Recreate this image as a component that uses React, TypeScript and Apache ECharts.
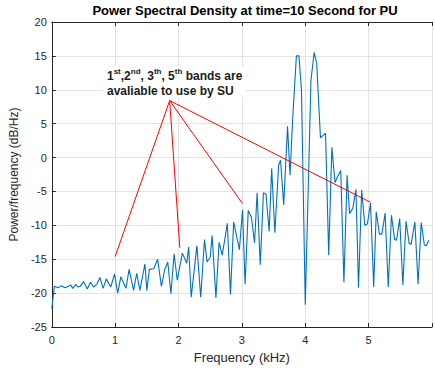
import React, { useEffect, useRef } from "react";
import * as echarts from "echarts";

const freqKHz = [
  0.0, 0.04, 0.1, 0.15, 0.21, 0.26, 0.3, 0.33, 0.38, 0.41, 0.45, 0.5, 0.56, 0.61, 0.66, 0.71, 0.76, 0.81, 0.86, 0.93,
  0.99, 1.04, 1.09, 1.17, 1.22, 1.29, 1.34, 1.39, 1.47, 1.5, 1.54, 1.61, 1.67, 1.73, 1.78, 1.83, 1.88, 1.93, 1.98,
  2.06, 2.13, 2.16, 2.2, 2.29, 2.35, 2.41, 2.45, 2.5, 2.53, 2.59, 2.64, 2.69, 2.77, 2.82, 2.87, 2.96, 3.01, 3.05,
  3.1, 3.15, 3.2, 3.24, 3.29, 3.34, 3.38, 3.43, 3.47, 3.52, 3.58, 3.61, 3.66, 3.72, 3.76, 3.8, 3.86, 3.9, 3.94,
  4.0, 4.09, 4.14, 4.18, 4.24, 4.32, 4.37, 4.42, 4.47, 4.51, 4.56, 4.61, 4.66, 4.7, 4.75, 4.8, 4.84, 4.89, 4.94,
  4.98, 5.03, 5.08, 5.12, 5.17, 5.21, 5.26, 5.31, 5.36, 5.41, 5.44, 5.49, 5.54, 5.59, 5.64, 5.67, 5.73, 5.78,
  5.83, 5.88, 5.91, 5.95,
];
const psdDb = [
  -22.3, -19.0, -19.2, -18.9, -19.2, -19.0, -18.8, -19.3, -18.7, -19.1, -19.0, -18.3, -19.4, -18.4, -19.1, -18.7,
  -17.7, -19.3, -17.9, -19.1, -17.2, -20.0, -17.6, -19.3, -16.5, -19.6, -17.1, -19.6, -15.7, -19.6, -16.5, -16.4,
  -15.0, -19.0, -16.6, -15.4, -20.1, -14.2, -18.1, -14.1, -15.6, -13.2, -20.6, -13.0, -20.6, -12.1, -15.4, -14.7,
  -11.5, -20.7, -12.5, -14.4, -9.7, -20.2, -9.5, -13.6, -7.7, -18.7, -7.8, -8.8, -12.6, -5.2, -15.8, -5.2, -5.4,
  -10.9, -1.6, -11.1, -1.1, -0.4, -7.0, 4.6, -2.6, 5.5, 15.0, 15.0, 10.0, -21.7, 11.4, 15.5, 13.9, 2.9, 3.6, -14.4,
  1.5, -3.7, -2.8, -1.9, -18.4, -2.6, -8.3, -7.5, -4.7, -19.2, -4.8, -10.0, -9.8, -6.7, -19.1, -8.0, -11.3, -11.3,
  -8.2, -19.1, -8.5, -12.1, -12.2, -9.0, -18.8, -9.4, -12.7, -12.8, -9.5, -18.7, -9.6, -12.9, -13.0, -12.2,
];

// annotation pointer lines (data coordinates)
const pointerFrom = [1.86, 8.4];
const pointerToKHz = [1.0, 2.02, 3.01, 5.03];
const pointerToDb = [-14.6, -13.3, -6.8, -6.6];

const xTickLabels = ["0", "1", "2", "3", "4", "5"];
const yTicks = [-25, -20, -15, -10, -5, 0, 5, 10, 15, 20];

const titleText = "Power Spectral Density at time=10 Second for PU";
const xName = "Frequency (kHz)";
const yName = "Power/frequency (dB/Hz)";

const FONT = "'Liberation Sans', Arial, Helvetica, sans-serif";
const AX = "#262626";

export default function App() {
  const ref = useRef<HTMLDivElement>(null);
  useEffect(() => {
    if (!ref.current) return;
    const chart = echarts.init(ref.current, undefined, { renderer: "svg" });
    const lineData = freqKHz.map((f, i) => [f, psdDb[i]]);
    const pointerData = pointerToKHz.map((x, i) => ({
      coords: [pointerFrom, [x, pointerToDb[i]]],
    }));
    const axisCommon = {
      type: "value" as const,
      axisLine: { show: true, onZero: false, lineStyle: { color: AX, width: 1 } },
      axisTick: { show: true, inside: true, length: 4, lineStyle: { color: AX } },
    };
    chart.setOption({
      animation: false,
      backgroundColor: "#ffffff",
      textStyle: { fontFamily: FONT },
      grid: { left: 50, top: 22, right: -4, bottom: 44 },
      xAxis: [
        {
          ...axisCommon,
          position: "bottom",
          min: 0,
          max: 6,
          interval: 1,
          name: xName,
          nameLocation: "middle",
          nameGap: 24,
          nameTextStyle: { fontSize: 13, color: AX, fontFamily: FONT },
          axisLabel: {
            margin: 7,
            fontSize: 11,
            color: AX,
            fontFamily: FONT,
            formatter: (v: number) => xTickLabels[v] ?? "",
          },
          splitLine: { show: true, lineStyle: { color: "#e3e3e3", width: 1 } },
        },
        {
          ...axisCommon,
          position: "top",
          min: 0,
          max: 6,
          interval: 1,
          axisLabel: { show: false },
          splitLine: { show: false },
        },
      ],
      yAxis: {
        ...axisCommon,
        min: yTicks[0],
        max: yTicks[yTicks.length - 1],
        interval: 5,
        name: yName,
        nameLocation: "middle",
        nameGap: 28,
        nameRotate: 90,
        nameTextStyle: { fontSize: 12, color: AX, fontFamily: FONT },
        axisLabel: { margin: 5, fontSize: 11, color: AX, fontFamily: FONT },
        splitLine: { show: true, lineStyle: { color: "#e3e3e3", width: 1 } },
      },
      series: [
        {
          type: "line",
          data: lineData,
          showSymbol: false,
          symbol: "none",
          lineStyle: { color: "#0072BD", width: 1.1 },
          z: 3,
        },
        {
          type: "lines",
          coordinateSystem: "cartesian2d",
          data: pointerData,
          lineStyle: { color: "#ff0000", width: 1, opacity: 1 },
          z: 4,
        },
      ],
      graphic: [
        {
          type: "text",
          x: 245,
          y: 10,
          style: {
            text: titleText,
            fill: "#000000",
            font: `bold 13px ${FONT}`,
            textAlign: "center",
            textVerticalAlign: "middle",
          },
          z: 10,
        },
        {
          type: "rect",
          shape: { x: 104, y: 66, width: 142, height: 31 },
          style: { fill: "#ffffff" },
          z: 5,
        },
        {
          type: "text",
          x: 107,
          y: 67,
          style: {
            text:
              "{n|1}{s|st}{n|,2}{s|nd}{n|, 3}{s|th}{n|, 5}{s|th}{n| bands are}\n{n|avaliable to use by SU}",
            fill: "#1a1a1a",
            textVerticalAlign: "top",
            rich: {
              n: { fontSize: 12, fontWeight: "bold", fontFamily: FONT, lineHeight: 15, verticalAlign: "bottom", fill: "#1a1a1a" },
              s: { fontSize: 8, fontWeight: "bold", fontFamily: FONT, lineHeight: 10, verticalAlign: "top", fill: "#1a1a1a" },
            },
          },
          z: 11,
        },
      ],
    });
    return () => chart.dispose();
  }, []);
  return (
    <div
      ref={ref}
      style={{ position: "fixed", left: 0, top: 0, width: 435, height: 371, background: "#fff" }}
    />
  );
}
